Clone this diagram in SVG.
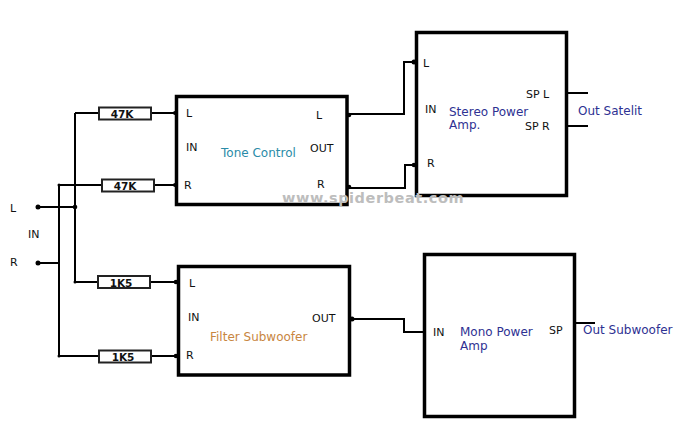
<svg xmlns="http://www.w3.org/2000/svg" width="698" height="431" viewBox="0 0 698 431">
<style>
text{font-family:"DejaVu Sans","Liberation Sans",sans-serif;font-size:11px;fill:#111}
.box{fill:#fff;stroke:#000;stroke-width:3.5}
.res{fill:#fff;stroke:#222;stroke-width:2}
.rt{font-family:"DejaVu Sans",sans-serif;font-weight:bold;font-size:10.5px;text-anchor:middle}
.w{fill:none;stroke:#000;stroke-width:2}
.blue{fill:#2e3192;font-size:12px}
.c{font-size:12px}
</style>
<rect width="698" height="431" fill="#fff"/>
<g id="connectors">
<path class="w" d="M38 207H75M38 263H59M75 113V282M59 185V356M75 113H98M152 113H175M59 185H101M154 185H175M75 282H97M150 282H177M59 356H98M152 356H177"/>
<path class="w" d="M348 114H404V62H415M348 188H405V165H415M351 319H404V332H423M568 93H588M568 126H588M576 323H595"/>
<g fill="#000"><circle cx="38" cy="207" r="2.5"/><circle cx="38" cy="263" r="2.5"/><circle cx="75" cy="207" r="2.3"/><circle cx="59" cy="185" r="1.5"/><circle cx="59" cy="356" r="1.5"/><circle cx="75" cy="282" r="1.5"/><circle cx="349" cy="115" r="2.3"/><circle cx="349" cy="187" r="2.3"/><circle cx="414" cy="62" r="2.5"/><circle cx="414" cy="165" r="2.3"/><circle cx="352" cy="319" r="2.5"/><circle cx="175" cy="113" r="2"/><circle cx="175" cy="185" r="2"/><circle cx="176" cy="282" r="2.3"/><circle cx="176" cy="356" r="2.3"/></g>
</g>
<g id="in-labels"><text x="10" y="212">L</text><text x="28" y="238">IN</text><text x="10" y="266">R</text></g>
<g id="r1"><rect class="res" x="99" y="107.500" width="52" height="12"/><text class="rt" x="122" y="118">47K</text></g>
<g id="r2"><rect class="res" x="102" y="179.500" width="52" height="12"/><text class="rt" x="125" y="190">47K</text></g>
<g id="r3"><rect class="res" x="98" y="276" width="52" height="12"/><text class="rt" x="121" y="286.500">1K5</text></g>
<g id="r4"><rect class="res" x="99" y="350.500" width="52" height="12"/><text class="rt" x="123" y="361">1K5</text></g>
<g id="tone-control"><rect class="box" x="176.500" y="96.500" width="170.500" height="108"/>
<text x="186" y="117">L</text><text x="186" y="151">IN</text><text x="184" y="189">R</text><text x="316" y="119">L</text><text x="310" y="152">OUT</text><text x="317" y="188">R</text>
<text class="c" x="221" y="157" style="fill:#2a8ba8">Tone Control</text></g>
<g id="stereo-power-amp"><rect class="box" x="416.500" y="32.500" width="150" height="163"/>
<text x="423" y="67">L</text><text x="425" y="113">IN</text><text x="427" y="167">R</text><text x="526" y="98">SP L</text><text x="525" y="130">SP R</text>
<text class="blue" x="449" y="116">Stereo Power</text><text class="blue" x="449" y="129">Amp.</text></g>
<g id="filter-subwoofer"><rect class="box" x="178.500" y="266.500" width="171" height="108.500"/>
<text x="189" y="287">L</text><text x="188" y="321">IN</text><text x="186" y="359">R</text><text x="312" y="322">OUT</text>
<text class="c" x="210" y="341" style="fill:#c8863f">Filter Subwoofer</text></g>
<g id="mono-power-amp"><rect class="box" x="424.500" y="254.500" width="150" height="162"/>
<text x="433" y="336">IN</text><text x="549" y="334">SP</text>
<text class="blue" x="460" y="336">Mono Power</text><text class="blue" x="460" y="350">Amp</text></g>
<g id="outputs"><text class="blue" x="578" y="115">Out Satelit</text><text class="blue" x="583" y="334">Out Subwoofer</text></g>
<text x="282" y="202.500" style="font-weight:bold;font-size:14.500px;fill:#bdbdbd;letter-spacing:.55px">www.spiderbeat.com</text>
</svg>
